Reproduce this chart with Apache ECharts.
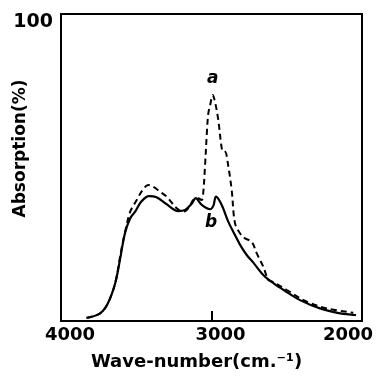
<!DOCTYPE html>
<html>
<head>
<meta charset="utf-8">
<script src="https://cdn.jsdelivr.net/npm/echarts@6/dist/echarts.min.js"></script>
<style>
html,body{margin:0;padding:0;background:#fff;}
#chart{width:379px;height:377px;}
</style>
</head>
<body>
<div id="chart"></div>
<script>
// Curve b (solid)
const solidWn  = [3830, 3740, 3690, 3640, 3608, 3575, 3540, 3505, 3465, 3415, 3365, 3300, 3220, 3175, 3130, 3105, 3065, 3010, 2988, 2970, 2932, 2888, 2832, 2810, 2766, 2722, 2656, 2580, 2520, 2412, 2279, 2146, 2058, 2040];
const solidAbs = [1.0, 2.5, 5.6, 12.3, 20.0, 28.6, 33.5, 35.8, 39.0, 40.7, 40.3, 38.1, 35.8, 36.2, 38.3, 40.0, 37.8, 36.4, 37.5, 40.5, 37.8, 32.3, 26.9, 24.8, 21.5, 19.0, 15.0, 12.0, 10.1, 6.8, 4.1, 2.5, 2.0, 1.9];
// Curve a (dashed)
const dashWn  = [3830, 3740, 3690, 3640, 3600, 3570, 3540, 3497, 3460, 3420, 3380, 3340, 3298, 3231, 3187, 3150, 3121, 3090, 3065, 3055, 3043, 3030, 3021, 3010, 2992, 2975, 2955, 2932, 2920, 2910, 2888, 2866, 2844, 2811, 2777, 2733, 2700, 2656, 2622, 2591, 2500, 2367, 2234, 2058];
const dashAbs = [1.0, 2.5, 5.6, 12.3, 23.0, 30.0, 35.6, 39.4, 42.5, 44.3, 43.5, 42.0, 40.5, 36.7, 35.6, 37.0, 39.4, 40.0, 39.4, 41.7, 50.5, 62.0, 67.7, 70.0, 73.6, 71.0, 65.5, 56.3, 55.0, 55.1, 50.3, 42.7, 31.9, 28.6, 26.9, 25.8, 22.1, 17.7, 13.4, 12.7, 10.1, 6.3, 4.1, 2.7];
const xTicks = [4000, 3000, 2000];
const yTicks = [100];
const xTitle = 'Wave-number(cm.\u207B\u00B9)';
const yTitle = 'Absorption(%)';
const curveLabels = ['a', 'b'];

const zip = (xs, ys) => xs.map((x, i) => [x, ys[i]]);
const FONT = '"DejaVu Sans", sans-serif';

const chart = echarts.init(document.getElementById('chart'), null, {renderer: 'canvas'});
chart.setOption({
  animation: false,
  backgroundColor: '#fff',
  grid: {left: 61, right: 17, top: 14, bottom: 56, show: true, borderColor: '#000', borderWidth: 2,
         containLabel: false, outerBoundsMode: 'none'},
  xAxis: {
    type: 'value', inverse: true, min: 2000, max: 4000, interval: 1000,
    axisLine: {show: true, lineStyle: {color: '#000', width: 2}},
    axisTick: {show: true, inside: true, length: 10, lineStyle: {color: '#000', width: 2}},
    splitLine: {show: false},
    axisLabel: {
      show: true, margin: 5, color: '#000', fontFamily: FONT, fontWeight: 'bold', fontSize: 18,
      showMinLabel: true, showMaxLabel: true, hideOverlap: false,
      formatter: v => xTicks.indexOf(v) >= 0 ? (v === 2000 ? '{r|' + v + '}' : '{l|' + v + '}') : '',
      rich: {
        l: {fontFamily: FONT, fontWeight: 'bold', fontSize: 18, color: '#000', padding: [0, 0, 0, 18]},
        r: {fontFamily: FONT, fontWeight: 'bold', fontSize: 18, color: '#000', padding: [0, 28, 0, 0]}
      }
    },
    name: xTitle, nameLocation: 'middle', nameGap: 32, nameMoveOverlap: false,
    nameTextStyle: {color: '#000', fontFamily: FONT, fontWeight: 'bold', fontSize: 18, padding: [0, 30, 0, 0]}
  },
  yAxis: {
    type: 'value', min: 0, max: 100, interval: 100,
    axisLine: {show: true, lineStyle: {color: '#000', width: 2}},
    axisTick: {show: false},
    splitLine: {show: false},
    axisLabel: {
      show: true, margin: 8, color: '#000', fontFamily: FONT, fontWeight: 'bold', fontSize: 19,
      showMaxLabel: true,
      formatter: v => yTicks.indexOf(v) >= 0 ? '{t|' + v + '}' : '',
      rich: {t: {fontFamily: FONT, fontWeight: 'bold', fontSize: 19, color: '#000', padding: [16, 0, 0, 0]}}
    },
    name: yTitle, nameLocation: 'middle', nameGap: 32, nameMoveOverlap: false,
    nameTextStyle: {color: '#000', fontFamily: FONT, fontWeight: 'bold', fontSize: 17, padding: [0, 0, 0, 38]}
  },
  series: [
    {
      type: 'line', data: zip(dashWn, dashAbs), smooth: 0.35, showSymbol: false, z: 2,
      lineStyle: {color: '#000', width: 2, type: [6, 4]},
      markPoint: {
        symbol: 'circle', symbolSize: 0,
        data: [{coord: [2992, 73.6], label: {show: true, formatter: curveLabels[0], offset: [0, -16]}}],
        label: {color: '#000', fontFamily: FONT, fontWeight: 'bold', fontStyle: 'italic', fontSize: 17}
      }
    },
    {
      type: 'line', data: zip(solidWn, solidAbs), smooth: 0.35, showSymbol: false, z: 3,
      lineStyle: {color: '#000', width: 2.2},
      markPoint: {
        symbol: 'circle', symbolSize: 0,
        data: [{coord: [3003, 31.9], label: {show: true, formatter: curveLabels[1]}}],
        label: {color: '#000', fontFamily: FONT, fontWeight: 'bold', fontStyle: 'italic', fontSize: 17}
      }
    }
  ]
});
</script>
</body>
</html>
